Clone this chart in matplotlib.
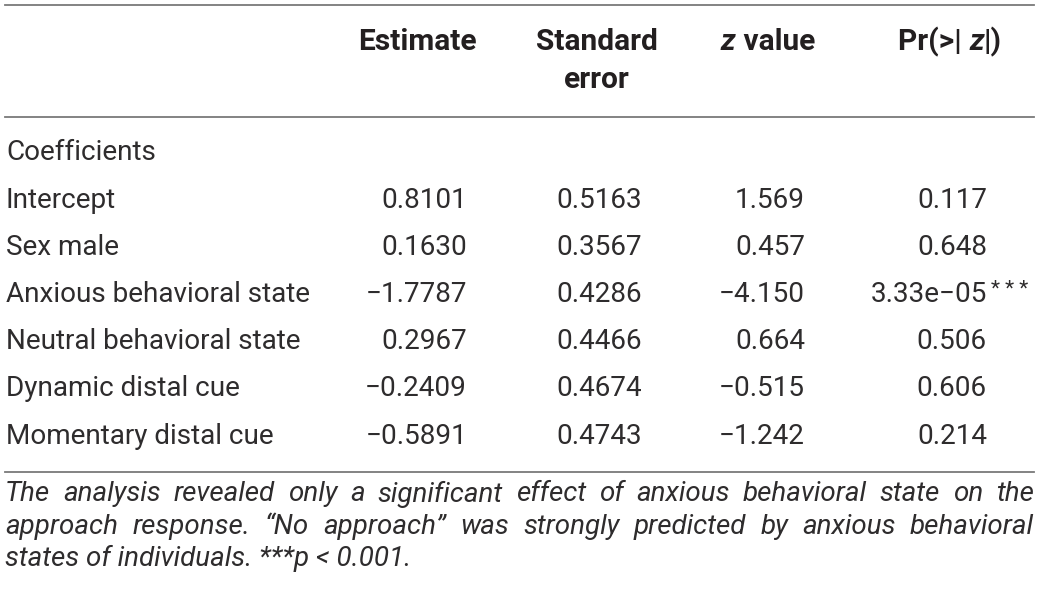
import matplotlib
matplotlib.use("Agg")
import matplotlib.pyplot as plt

# table content
row_labels = ["Intercept", "Sex male", "Anxious behavioral state",
              "Neutral behavioral state", "Dynamic distal cue", "Momentary distal cue"]
estimate = ["0.8101", "0.1630", "\u22121.7787", "0.2967", "\u22120.2409", "\u22120.5891"]
std_error = ["0.5163", "0.3567", "0.4286", "0.4466", "0.4674", "0.4743"]
z_value = ["1.569", "0.457", "\u22124.150", "0.664", "\u22120.515", "\u22121.242"]
p_value = ["0.117", "0.648", "3.33e\u221205", "0.506", "0.606", "0.214"]
p_stars = ["", "", "* * *", "", "", ""]
section_label = "Coefficients"
footnote_lines = [
    "The analysis revealed only a significant effect of anxious behavioral state on the",
    "approach response. \u201cNo approach\u201d was strongly predicted by anxious behavioral",
    "states of individuals. ***p < 0.001.",
]

W, H = 1040, 595
FAM = ["Roboto", "Liberation Sans", "DejaVu Sans"]
TXT = "#2e2c2d"
LINE = "#7a7a7a"
FS = 20.1

fig = plt.figure(figsize=(W / 100, H / 100), dpi=100)
fig.patch.set_facecolor("white")
renderer = fig.canvas.get_renderer()


def fx(x):
    return x / W


def fy(y):
    return 1 - y / H


def put(x, y, s, ha="left", **kw):
    kw.setdefault("fontsize", FS)
    kw.setdefault("color", TXT)
    kw.setdefault("family", FAM)
    kw.setdefault("weight", "normal")
    return fig.text(fx(x), fy(y), s, ha=ha, va="center", **kw)


def width_of(t):
    return t.get_window_extent(renderer).width


def put_pieces(x, y, pieces, center=False):
    # pieces: list of (text, style kwargs), drawn one after another
    arts = [put(0, y, s, **kw) for s, kw in pieces]
    widths = [width_of(a) for a in arts]
    if center:
        x = x - sum(widths) / 2
    for a, w in zip(arts, widths):
        a.set_x(fx(x))
        x += w


def hline(y, x0=5, x1=1034):
    fig.add_artist(plt.Line2D([fx(x0), fx(x1)], [fy(y), fy(y)], color=LINE, lw=1.3))


# rules
hline(5)
hline(117)
hline(472)

# header
bold = dict(weight="bold", fontsize=21.5, color="#231f20")
bold_it = dict(weight="bold", style="italic", fontsize=21.5, color="#231f20")
put(417, 42, "Estimate", ha="center", **bold)
put(597, 42, "Standard", ha="center", **bold)
put(597, 80, "error", ha="center", **bold)
put_pieces(768, 42, [("z", bold_it), (" value", bold)], center=True)
put_pieces(950, 42, [("Pr(>| ", bold), ("z", bold_it), ("|)", bold)], center=True)

# body
put(6, 153, section_label)
row_y0, row_step = 200, 47.2
for i in range(len(row_labels)):
    y = row_y0 + i * row_step
    put(6, y, row_labels[i])
    put(467, y, estimate[i], ha="right")
    put(642, y, std_error[i], ha="right")
    put(805, y, z_value[i], ha="right")
    put(987, y, p_value[i], ha="right")
    if p_stars[i]:
        put(991, y - 5, p_stars[i], fontsize=15)

# footnote, first two lines justified
foot_y = [494, 527, 558]
left, right = 5, 1034
it = dict(style="italic", fontsize=20)
for line, y in zip(footnote_lines, foot_y):
    words = line.split(" ")
    if line is footnote_lines[-1]:
        put(left, y, line, **it)
        continue
    arts = [put(0, y, w, **it) for w in words]
    ws = [width_of(a) for a in arts]
    gap = (right - left - sum(ws)) / (len(words) - 1)
    x = left
    for a, w in zip(arts, ws):
        a.set_x(fx(x))
        x += w + gap

fig.savefig("out.png", dpi=100, facecolor="white")
